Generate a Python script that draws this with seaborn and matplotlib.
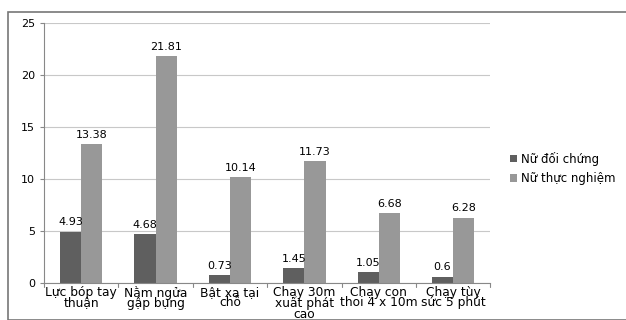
import matplotlib
matplotlib.use("Agg")
import matplotlib.pyplot as plt
import seaborn as sns
import pandas as pd
from matplotlib.patches import Rectangle

categories = ["Lực bóp tay\nthuận", "Nằm ngửa\ngập bụng", "Bật xa tại\nchỗ",
              "Chạy 30m\nxuất phát\ncao", "Chạy con\nthoi 4 x 10m", "Chạy tùy\nsức 5 phút"]
series_names = ["Nữ đối chứng", "Nữ thực nghiệm"]
doi_chung = [4.93, 4.68, 0.73, 1.45, 1.05, 0.6]
thuc_nghiem = [13.38, 21.81, 10.14, 11.73, 6.68, 6.28]
labels_dc = ["4.93", "4.68", "0.73", "1.45", "1.05", "0.6"]
labels_tn = ["13.38", "21.81", "10.14", "11.73", "6.68", "6.28"]

df = pd.DataFrame({
    "cat": categories * 2,
    "series": [series_names[0]] * 6 + [series_names[1]] * 6,
    "value": doi_chung + thuc_nghiem,
})

sns.set_style("white")
plt.rcParams['font.family'] = ['DejaVu Sans']
plt.rcParams['text.color'] = 'black'
plt.rcParams['xtick.color'] = 'black'
plt.rcParams['ytick.color'] = 'black'

fig = plt.figure(figsize=(6.26, 3.2), dpi=100)
ax = fig.add_axes([0.0703, 0.116, 0.713, 0.812])

colors = ["#5f5f5f", "#989898"]
sns.barplot(data=df, x="cat", y="value", hue="series", palette=colors,
            width=0.57, gap=0, ax=ax, saturation=1, edgecolor="none")

ax.set_xlim(-0.5, 5.5)
ax.set_ylim(0, 25)
ax.set_yticks([0, 5, 10, 15, 20, 25])
ax.yaxis.grid(True, color="#c8c8c8", linewidth=0.8)
ax.set_axisbelow(True)
ax.set_xlabel("")
ax.set_ylabel("")
for s in ["top", "right"]:
    ax.spines[s].set_visible(False)
ax.spines["left"].set_color("#888888")
ax.spines["bottom"].set_color("#888888")
ax.tick_params(axis="y", labelsize=8, length=3, color="#888888", labelcolor="black",
               direction="out", left=True)
ax.tick_params(axis="x", labelsize=8.8, length=0, pad=2, labelcolor="black")
for lbl in ax.get_xticklabels():
    lbl.set_linespacing(0.78)

# category separator ticks
for i in range(7):
    ax.plot([i - 0.5, i - 0.5], [0, -0.35], color="#888888", lw=0.8, clip_on=False)

for cont, labs in zip(ax.containers, [labels_dc, labels_tn]):
    ax.bar_label(cont, labels=labs, fontsize=8, padding=3, color="black")

leg = ax.legend(loc="center left", bbox_to_anchor=(1.02, 0.44), frameon=False,
                fontsize=8.5, handlelength=0.6, handleheight=0.6, handletextpad=0.3,
                labelspacing=0.55)
for t in leg.get_texts():
    t.set_color("black")

fig.patches.append(Rectangle((8 / 626, 0), 1, 1 - 12 / 320, transform=fig.transFigure,
                             fill=False, edgecolor="#777777", linewidth=1.2))

fig.savefig("out.png", dpi=100)
